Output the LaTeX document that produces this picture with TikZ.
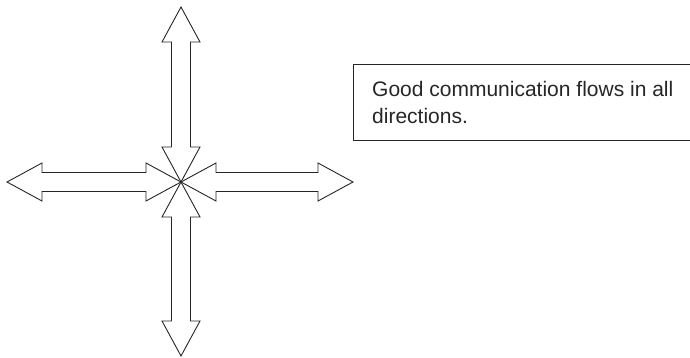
\documentclass[tikz,border=0pt]{standalone}
\usepackage{fontspec}
\setmainfont{Liberation Sans}
\begin{document}
\begin{tikzpicture}[x=1pt,y=1pt,
  arr/.style={draw=black!85, line width=0.9pt, line join=miter, fill=white},
  boxst/.style={draw=black!85, line width=0.9pt, inner sep=0pt},
  txt/.style={font=\fontsize{21}{26}\selectfont, text=black!85, inner sep=0pt, anchor=base west}]
\useasboundingbox (0,0) rectangle (690,357);
\coordinate (c) at (181,175);
\def\h{35}\def\w{19}\def\s{9.5}
\foreach \ang/\L in {0/172, 90/175, 180/174, 270/174}{
  \draw[arr, rotate around={\ang:(c)}, shift={(c)}]
    (0,0) -- (\h,\w) -- (\h,\s) -- (\L-\h,\s) -- (\L-\h,\w) -- (\L,0)
    -- (\L-\h,-\w) -- (\L-\h,-\s) -- (\h,-\s) -- (\h,-\w) -- cycle;
}
\begin{scope}
\clip (0,0) rectangle (690,357);
\node[boxst, minimum width=360pt, minimum height=76pt, anchor=north west] (box) at (353,293) {};
\end{scope}
\node[txt] (t1) at (372,260.5) {Good communication flows in all};
\node[txt] (t2) at (372,234) {directions.};
\end{tikzpicture}
\end{document}
